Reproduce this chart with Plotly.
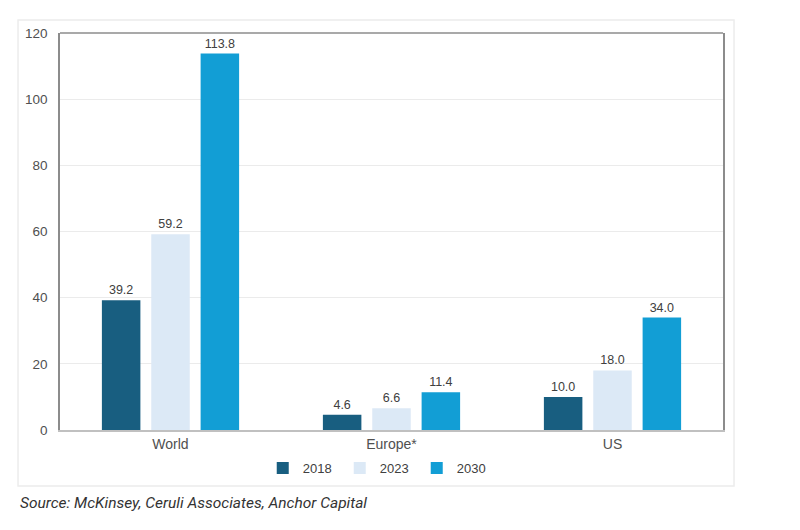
import plotly.graph_objects as go

regions = ["World", "Europe*", "US"]
years = ["2018", "2023", "2030"]
values_2018 = [39.2, 4.6, 10.0]
values_2023 = [59.2, 6.6, 18.0]
values_2030 = [113.8, 11.4, 34.0]
y_ticks = [0, 20, 40, 60, 80, 100, 120]

colors = ["#185e80", "#dce9f6", "#129ed5"]
series = [values_2018, values_2023, values_2030]

fig = go.Figure()
for year, vals, col in zip(years, series, colors):
    fig.add_trace(go.Bar(
        x=regions, y=vals, name=year,
        marker=dict(color=col, line=dict(width=0)),
        text=[f"{v:.1f}" for v in vals],
        textposition="outside",
        textfont=dict(size=12.5, color="#404040"),
        cliponaxis=False,
    ))

# page body has an 8px margin, so the figure is a little smaller than the window
fig.update_layout(
    width=792, height=522,
    margin=dict(l=52, r=77, t=25, b=100),
    paper_bgcolor="white", plot_bgcolor="white",
    font=dict(family="Liberation Sans, Arial, sans-serif", size=13, color="#404040"),
    barmode="group", bargap=0.33, bargroupgap=0.22,
    showlegend=True,
    legend=dict(orientation="h", x=0.48, xanchor="center", y=-0.096, yanchor="middle",
                font=dict(size=13, color="#404040"), itemwidth=30, traceorder="normal",
                entrywidth=32, tracegroupgap=0),
    xaxis=dict(showline=True, linecolor="#c0c0c0", linewidth=1.5, ticks="",
               tickfont=dict(size=14, color="#505050")),
    yaxis=dict(range=[0, 120], tickvals=y_ticks, showgrid=True, gridcolor="#ebebeb",
               showline=True, linecolor="#8c8c8c", linewidth=1.5, mirror=True,
               zeroline=False, ticks="", tickfont=dict(size=13.5, color="#505050"),
               ticklabelstandoff=8),
    shapes=[
        dict(type="line", xref="paper", yref="paper", x0=0, x1=1, y0=1, y1=1,
             line=dict(color="#8c8c8c", width=1.5)),
        dict(type="rect", xref="paper", yref="paper", x0=-0.0633, x1=1.0166,
             y0=-0.141, y1=1.0327, line=dict(color="#ececec", width=1.5), layer="below"),
    ],
    annotations=[
        dict(text="Source: McKinsey, Ceruli Associates, Anchor Capital",
             xref="paper", yref="paper", x=-0.0633, y=-0.184, xanchor="left", yanchor="middle",
             showarrow=False, font=dict(family="Roboto, Liberation Sans, sans-serif",
                                        size=15.5, color="#333333", style="italic")),
    ],
)

fig.write_html("out.html")
